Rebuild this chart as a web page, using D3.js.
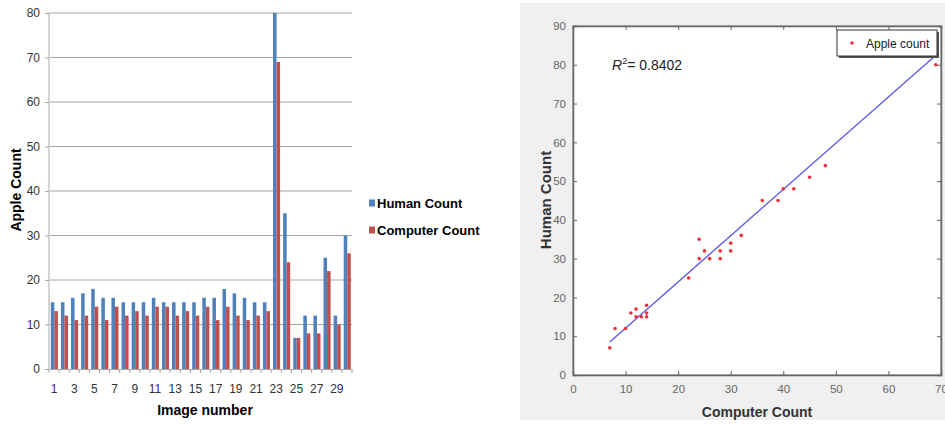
<!DOCTYPE html>
<html>
<head>
<meta charset="utf-8">
<script src="https://cdn.jsdelivr.net/npm/d3@7"></script>
<style>
  body { margin: 0; background: #fff; }
  svg { display: block; }
</style>
</head>
<body>
<div id="chart"></div>
<script>
// Bar chart data (left panel)
const images = d3.range(1, 31);
const humanCount = [15, 15, 16, 17, 18, 16, 16, 15, 15, 15, 16, 15, 15, 15, 15,
                    16, 16, 18, 17, 16, 15, 15, 80, 35, 7, 12, 12, 25, 12, 30];
const computerCount = [13, 12, 11, 12, 14, 11, 14, 12, 13, 12, 14, 14, 12, 13, 12,
                       14, 11, 14, 12, 11, 12, 13, 69, 24, 7, 8, 8, 22, 10, 26];
const seriesNames = ['Human Count', 'Computer Count'];
const seriesColors = ['#4f81bd', '#c0504d'];

// Scatter data (right panel)
const scatterX = [7, 8, 10, 11, 12, 12, 13, 14, 14, 14, 22, 24, 24, 25, 26, 28, 28,
                  30, 30, 32, 36, 39, 40, 42, 45, 48, 69];
const scatterY = [7, 12, 12, 16, 17, 15, 15, 18, 16, 15, 25, 35, 30, 32, 30, 32, 30,
                  34, 32, 36, 45, 45, 48, 48, 51, 54, 80];
const fitX = [7, 68.8];
const fitY = [8.5, 82.2];
const rSquared = 0.8402;

const svg = d3.select('#chart').append('svg')
    .attr('width', 945)
    .attr('height', 424);

function drawBars() {
    const left = 49, right = 352, top = 13, bottom = 369;
    const font = '"Liberation Sans Narrow", "Arial Narrow", "Liberation Sans", sans-serif';

    const x = d3.scaleBand().domain(images).range([left, right]).paddingInner(0).paddingOuter(0);
    const xs = d3.scaleBand().domain([0, 1]).range([x.bandwidth() * 0.18, x.bandwidth() * 0.88]);
    const y = d3.scaleLinear().domain([0, 80]).range([bottom, top]);

    const g = svg.append('g');

    // gridlines
    g.selectAll('line.grid')
        .data(d3.range(10, 81, 10))
        .join('line')
        .attr('x1', left).attr('x2', right)
        .attr('y1', d => y(d)).attr('y2', d => y(d))
        .attr('stroke', '#a6a6a6')
        .attr('stroke-width', 1.2);

    // left axis line
    g.append('line')
        .attr('x1', left).attr('x2', left)
        .attr('y1', top).attr('y2', bottom)
        .attr('stroke', '#d4d4d4')
        .attr('stroke-width', 2);

    // bars
    const rows = images.map((d, i) => [humanCount[i], computerCount[i]]);
    const groups = g.selectAll('g.pair')
        .data(rows)
        .join('g')
        .attr('transform', (d, i) => `translate(${x(images[i])},0)`);
    groups.selectAll('rect')
        .data(d => d)
        .join('rect')
        .attr('x', (d, j) => xs(j))
        .attr('width', xs.bandwidth())
        .attr('y', d => y(d))
        .attr('height', d => y(0) - y(d))
        .attr('fill', (d, j) => seriesColors[j]);

    // bottom axis
    const xAxis = d3.axisBottom(x)
        .tickValues(images.filter(d => d % 2 === 1))
        .tickSize(0)
        .tickPadding(15);
    const ax = g.append('g')
        .attr('transform', `translate(0,${bottom})`)
        .call(xAxis);
    ax.select('.domain').attr('stroke', '#a6a6a6').attr('stroke-width', 1.2);
    ax.selectAll('text').attr('font-family', font).attr('font-size', 12).attr('fill', '#333');

    // category boundary ticks
    g.selectAll('line.xt')
        .data(d3.range(0, 31))
        .join('line')
        .attr('x1', d => left + d * x.step()).attr('x2', d => left + d * x.step())
        .attr('y1', bottom).attr('y2', bottom + 4)
        .attr('stroke', '#a6a6a6');

    // left axis labels
    const yAxis = d3.axisLeft(y).tickValues(d3.range(0, 81, 10)).tickSize(4).tickPadding(5);
    const ay = g.append('g')
        .attr('transform', `translate(${left},0)`)
        .call(yAxis);
    ay.select('.domain').remove();
    ay.selectAll('line').attr('stroke', '#a6a6a6');
    ay.selectAll('text').attr('font-family', font).attr('font-size', 12).attr('fill', '#333');

    // titles
    g.append('text')
        .attr('x', 205).attr('y', 415)
        .attr('text-anchor', 'middle')
        .attr('font-family', font).attr('font-weight', 'bold').attr('font-size', 14)
        .text('Image number');
    g.append('text')
        .attr('transform', 'translate(21,190) rotate(-90)')
        .attr('text-anchor', 'middle')
        .attr('font-family', font).attr('font-weight', 'bold').attr('font-size', 14)
        .text('Apple Count');

    // legend
    const leg = g.selectAll('g.leg')
        .data(seriesNames)
        .join('g')
        .attr('transform', (d, i) => `translate(369,${203 + i * 27})`);
    leg.append('rect')
        .attr('x', 0).attr('y', -3.5).attr('width', 6).attr('height', 7)
        .attr('fill', (d, i) => seriesColors[i]);
    leg.append('text')
        .attr('x', 8).attr('y', 4.5)
        .attr('font-family', font).attr('font-weight', 'bold').attr('font-size', 13)
        .text(d => d);
}

function drawScatter() {
    const left = 573, right = 941, top = 26, bottom = 375;
    const font = '"Liberation Sans", Arial, sans-serif';

    svg.append('rect')
        .attr('x', 520).attr('y', 3).attr('width', 425).attr('height', 417)
        .attr('fill', '#f0f0f0');

    const x = d3.scaleLinear().domain([0, 70]).range([left, right]);
    const y = d3.scaleLinear().domain([0, 90]).range([bottom, top]);

    const g = svg.append('g');
    g.append('rect')
        .attr('x', left).attr('y', top)
        .attr('width', right - left).attr('height', bottom - top)
        .attr('fill', '#fff')
        .attr('stroke', '#777').attr('stroke-width', 1);

    const xTicks = d3.range(0, 71, 10);
    const yTicks = d3.range(0, 91, 10);

    const xAxis = d3.axisBottom(x).tickValues(xTicks).tickSize(-4).tickPadding(10);
    const ax = g.append('g').attr('transform', `translate(0,${bottom})`).call(xAxis);
    const xTop = d3.axisTop(x).tickValues(xTicks).tickSize(-4).tickFormat('');
    const at = g.append('g').attr('transform', `translate(0,${top})`).call(xTop);
    const yAxis = d3.axisLeft(y).tickValues(yTicks).tickSize(-4).tickPadding(7);
    const ay = g.append('g').attr('transform', `translate(${left},0)`).call(yAxis);
    const yRight = d3.axisRight(y).tickValues(yTicks).tickSize(-4).tickFormat('');
    const ar = g.append('g').attr('transform', `translate(${right},0)`).call(yRight);

    [ax, at, ay, ar].forEach(a => {
        a.select('.domain').attr('stroke', '#666').attr('stroke-width', 1.5);
        a.selectAll('line').attr('stroke', '#666');
        a.selectAll('text').attr('font-family', font).attr('font-size', 11.5).attr('fill', '#666');
    });

    // fitted line
    g.append('line')
        .attr('x1', x(fitX[0])).attr('y1', y(fitY[0]))
        .attr('x2', x(fitX[1])).attr('y2', y(fitY[1]))
        .attr('stroke', '#5b5be8').attr('stroke-width', 1.4);

    // points
    g.selectAll('circle.pt')
        .data(scatterX.map((d, i) => [d, scatterY[i]]))
        .join('circle')
        .attr('cx', d => x(d[0]))
        .attr('cy', d => y(d[1]))
        .attr('r', 1.8)
        .attr('fill', '#e8303a');

    // R squared
    const r2 = g.append('text')
        .attr('x', 612).attr('y', 70)
        .attr('font-family', font).attr('font-size', 14).attr('fill', '#222');
    r2.append('tspan').attr('font-style', 'italic').text('R');
    r2.append('tspan').attr('font-size', 9).attr('dy', -6).text('2');
    r2.append('tspan').attr('dy', 6).text('= ' + rSquared.toFixed(4));

    // legend
    g.append('rect')
        .attr('x', 839).attr('y', 32).attr('width', 100).attr('height', 26)
        .attr('fill', '#555');
    g.append('rect')
        .attr('x', 837).attr('y', 30).attr('width', 100).attr('height', 26)
        .attr('fill', '#fff').attr('stroke', '#333').attr('stroke-width', 1);
    g.append('circle')
        .attr('cx', 852).attr('cy', 43).attr('r', 1.8).attr('fill', '#e8303a');
    g.append('text')
        .attr('x', 866).attr('y', 47.5)
        .attr('font-family', font).attr('font-size', 12).attr('fill', '#222')
        .text('Apple count');

    // axis titles
    g.append('text')
        .attr('x', 757).attr('y', 417)
        .attr('text-anchor', 'middle')
        .attr('font-family', font).attr('font-weight', 'bold').attr('font-size', 14)
        .attr('fill', '#333')
        .text('Computer Count');
    g.append('text')
        .attr('transform', 'translate(551,200) rotate(-90)')
        .attr('text-anchor', 'middle')
        .attr('font-family', font).attr('font-weight', 'bold').attr('font-size', 15)
        .attr('fill', '#333')
        .text('Human Count');
}

drawBars();
drawScatter();
</script>
</body>
</html>
